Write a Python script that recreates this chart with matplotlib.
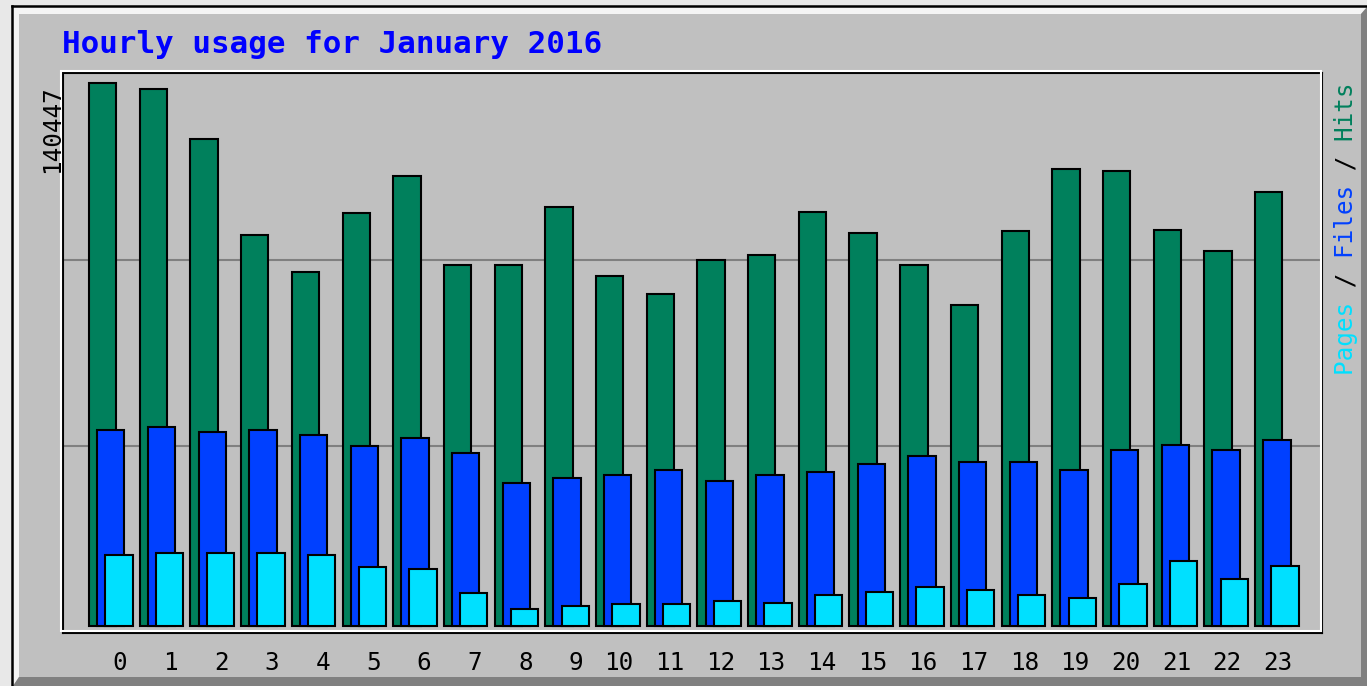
import matplotlib
matplotlib.use('Agg')
import matplotlib.pyplot as plt
from matplotlib.patches import Rectangle, Polygon
from matplotlib.lines import Line2D
import numpy as np

# hourly totals
hours = list(range(24))
hour_labels = [str(h) for h in hours]
hits = [140447, 138896, 125987, 101203, 91650, 106882, 116435, 93458,
        93458, 108431, 90618, 85971, 94748, 96039, 107141, 101719,
        93458, 83131, 102235, 118242, 117726, 102493, 97071, 112304]
files = [50601, 51376, 50085, 50601, 49310, 46471, 48536, 44663,
         36918, 38209, 38984, 40275, 37435, 38984, 39758, 41824,
         43889, 42340, 42340, 40275, 45438, 46729, 45438, 48020]
pages = [18330, 18846, 18846, 18846, 18330, 15232, 14716, 8520,
         4389, 5163, 5680, 5680, 6454, 5938, 8003, 8778,
         10069, 9294, 8003, 7229, 10843, 16781, 12134, 15490]
max_hits = max(hits)

title = 'Hourly usage for January 2016'
legend_parts = [('Pages', '#00e0ff'), (' / ', 'black'), ('Files', '#0040ff'),
                (' / ', 'black'), ('Hits', '#00805c')]

W, H = 1367, 686
MONO = 'DejaVu Sans Mono'


def fx(px):
    return px / W


def fy(py):
    return 1 - py / H


fig = plt.figure(figsize=(W / 100, H / 100), dpi=100, facecolor='#e8e8e8')

# grey panel with bevel, like the webalizer png on the page (kept behind the axes)
bg = dict(transform=fig.transFigure, edgecolor='none', zorder=-10)
fig.add_artist(Rectangle((fx(13), 0), 1 - fx(13), fy(7), facecolor='#c0c0c0', **bg))
fig.add_artist(Polygon([(fx(13), fy(7)), (1, fy(7)), (fx(1361), fy(14)), (fx(19), fy(14)),
                        (fx(19), fy(677)), (fx(13), 0)], closed=True,
                       facecolor='#f4f4f4', **bg))
fig.add_artist(Polygon([(1, fy(7)), (1, 0), (fx(13), 0), (fx(19), fy(677)),
                        (fx(1361), fy(677)), (fx(1361), fy(14))], closed=True,
                       facecolor='#808080', **bg))
fig.add_artist(Line2D([fx(12), 1], [fy(6), fy(6)], transform=fig.transFigure,
                      color='black', lw=1.8, zorder=-9))
fig.add_artist(Line2D([fx(12), fx(12)], [0, fy(6)], transform=fig.transFigure,
                      color='black', lw=1.8, zorder=-9))

ax = fig.add_axes([fx(63), fy(633), fx(1322) - fx(63), (633 - 73) / H])
ax.set_facecolor('#c0c0c0')

x = np.arange(len(hours))
width = 0.54
step = 0.16
ax.bar(x, hits, width, align='edge', color='#00805c', edgecolor='black', lw=1.5, zorder=2)
ax.bar(x + step, files, width, align='edge', color='#0040ff', edgecolor='black', lw=1.5, zorder=3)
ax.bar(x + 2 * step, pages, width, align='edge', color='#00e0ff', edgecolor='black', lw=1.5, zorder=4)

ax.set_xlim(-0.513, 24.32)
ylo, yhi = -0.013 * max_hits, 1.0184 * max_hits
ax.set_ylim(ylo, yhi)

# grid at thirds of the plot height
for f in (1 / 3, 2 / 3):
    ax.axhline(ylo + f * (yhi - ylo), color='#808080', lw=1.5, zorder=1)

ax.set_yticks([])
ax.set_xticks([h + (0.61 if h < 10 else 0.45) for h in hours], hour_labels)
ax.tick_params(axis='x', length=0, pad=13, labelsize=17.5)
for lab in ax.get_xticklabels():
    lab.set_family(MONO)
for sp in ax.spines.values():
    sp.set_color('black')
    sp.set_linewidth(1.5)

# white bevel line around the plot frame
fig.add_artist(Rectangle((fx(61), fy(631)), fx(1320.5) - fx(61), (631 - 70.5) / H,
                         transform=fig.transFigure, fill=False, edgecolor='white', lw=1.5))

fig.text(fx(62), fy(53), title, color='#0000ff', weight='bold', family=MONO,
         size=22.2, va='baseline', ha='left')
fig.text(fx(52), fy(85), str(max_hits), rotation=90, ha='center', va='top',
         family=MONO, size=17.5, color='black')

# right-hand legend, one colour per word, padded so the mono glyphs line up
full = ''.join(p for p, _ in legend_parts)
pos = 0
for part, col in legend_parts:
    s = ' ' * pos + part + ' ' * (len(full) - pos - len(part))
    fig.text(fx(1346), fy(375), s, rotation=90, rotation_mode='anchor', ha='left',
             va='center', family=MONO, size=17.5, color=col)
    pos += len(part)

fig.savefig('out.png', dpi=100, facecolor=fig.get_facecolor())
